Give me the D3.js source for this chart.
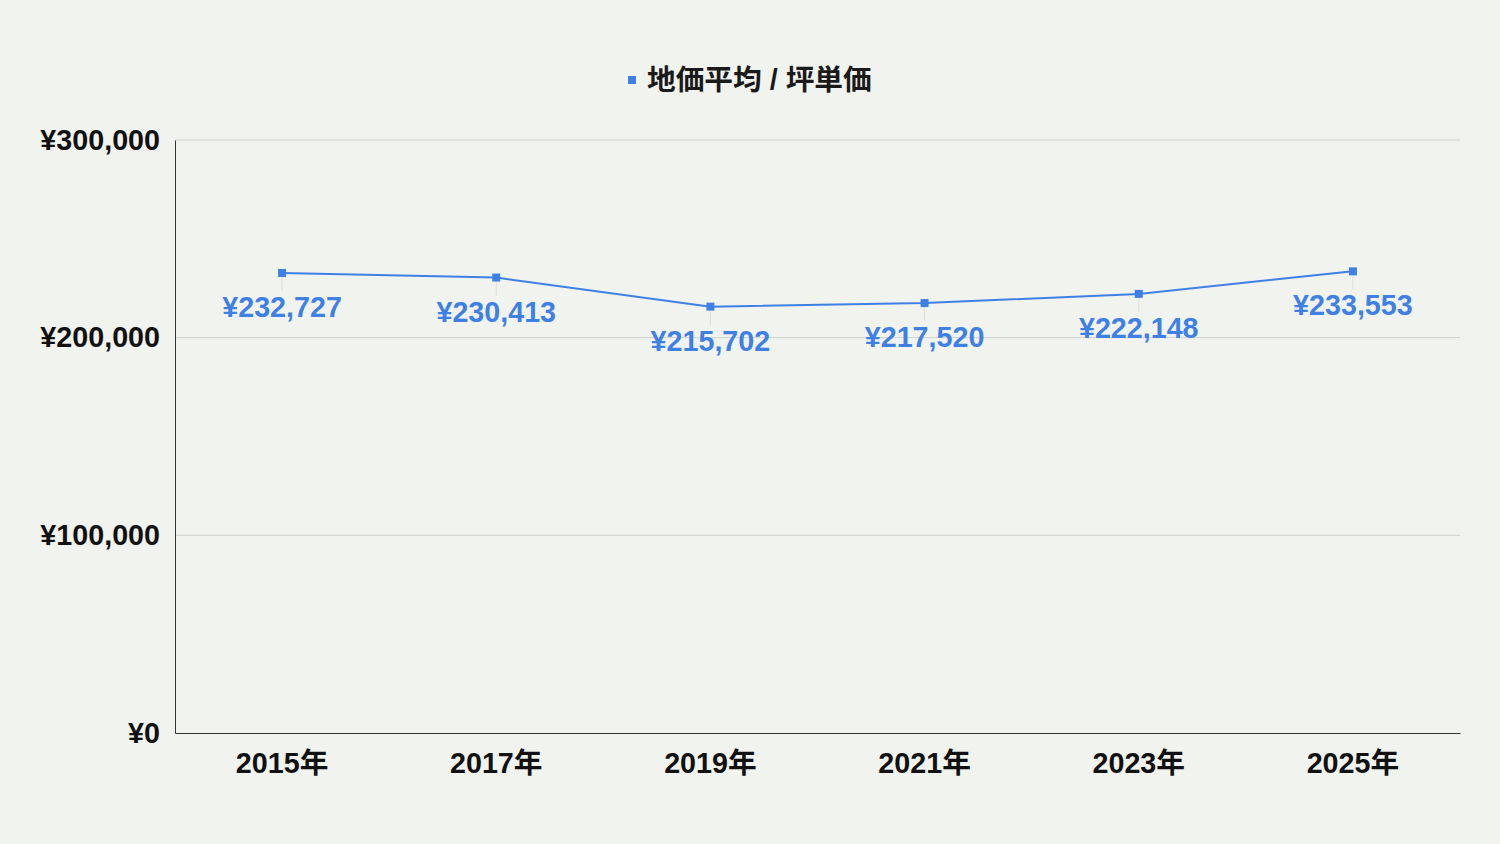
<!DOCTYPE html>
<html>
<head>
<meta charset="utf-8">
<script src="https://cdn.jsdelivr.net/npm/d3@7"></script>
<style>
  html, body { margin: 0; padding: 0; background: #f1f3ee; }
  svg text { font-family: "Liberation Sans", Arial, "Noto Sans CJK JP", sans-serif; font-weight: bold; }
</style>
</head>
<body>
<div id="chart"></div>
<script>
// data
const years = ["2015年", "2017年", "2019年", "2021年", "2023年", "2025年"];
const prices = [232727, 230413, 215702, 217520, 222148, 233553];
const yTicks = [0, 100000, 200000, 300000];
const seriesName = "地価平均 / 坪単価";

const width = 1500, height = 844;
const margin = {top: 140, right: 40, bottom: 111, left: 175};
const lineColor = "#3f80e4";
const fontSize = 28.7;

const svg = d3.select("#chart").append("svg")
    .attr("width", width)
    .attr("height", height);

svg.append("rect")
    .attr("width", width)
    .attr("height", height)
    .attr("fill", "#f1f3ee");

let xScale = d3.scaleBand()
    .domain(years)
    .range([margin.left, width - margin.right]);

let yScale = d3.scaleLinear()
    .domain([0, 300000])
    .range([height - margin.bottom, margin.top]);

const yen = v => "¥" + d3.format(",")(v);

// grid lines
svg.append("g")
    .selectAll("line")
    .data(yTicks.filter(d => d > 0))
    .enter()
    .append("line")
    .attr("x1", margin.left)
    .attr("x2", width - margin.right)
    .attr("y1", d => yScale(d))
    .attr("y2", d => yScale(d))
    .attr("stroke", "#cfd1cc")
    .attr("stroke-width", 1);

// y axis
let yAxis = d3.axisLeft(yScale)
    .tickValues(yTicks)
    .tickFormat(yen)
    .tickSize(0)
    .tickPadding(15);

let yG = svg.append("g")
    .attr("transform", `translate(${margin.left}, 0)`)
    .call(yAxis);
yG.select(".domain").attr("stroke", "#333");
yG.selectAll("text")
    .attr("font-size", fontSize)
    .attr("fill", "#111")
    .style("font-family", null);

// x axis
let xAxis = d3.axisBottom(xScale)
    .tickSize(0)
    .tickPadding(20);

let xG = svg.append("g")
    .attr("transform", `translate(0, ${height - margin.bottom})`)
    .call(xAxis);
xG.select(".domain").attr("stroke", "#333");
xG.selectAll("text")
    .attr("font-size", fontSize)
    .attr("fill", "#111")
    .style("font-family", null);

const cx = d => xScale(d) + xScale.bandwidth() / 2;

// leader lines from point to label
svg.append("g")
    .selectAll("line")
    .data(years)
    .enter()
    .append("line")
    .attr("x1", d => cx(d))
    .attr("x2", d => cx(d))
    .attr("y1", (d, i) => yScale(prices[i]) + 4)
    .attr("y2", (d, i) => yScale(prices[i]) + 18)
    .attr("stroke", "#dcdfd8")
    .attr("stroke-width", 1);

// line
let line = d3.line()
    .x((d, i) => cx(years[i]))
    .y(d => yScale(d));

svg.append("path")
    .datum(prices)
    .attr("d", line)
    .attr("fill", "none")
    .attr("stroke", lineColor)
    .attr("stroke-width", 2);

// markers
svg.append("g")
    .selectAll("rect")
    .data(prices)
    .enter()
    .append("rect")
    .attr("x", (d, i) => cx(years[i]) - 4)
    .attr("y", d => yScale(d) - 4)
    .attr("width", 8)
    .attr("height", 8)
    .attr("fill", lineColor);

// data labels
svg.append("g")
    .selectAll("text")
    .data(prices)
    .enter()
    .append("text")
    .attr("x", (d, i) => cx(years[i]))
    .attr("y", d => yScale(d) + 34)
    .attr("dy", "0.35em")
    .attr("text-anchor", "middle")
    .attr("font-size", fontSize)
    .attr("fill", lineColor)
    .text(d => yen(d));

// legend
let legend = svg.append("g")
    .attr("transform", `translate(628, 80)`);
legend.append("rect")
    .attr("x", 0)
    .attr("y", -4)
    .attr("width", 8)
    .attr("height", 8)
    .attr("fill", lineColor);
legend.append("text")
    .attr("x", 19)
    .attr("y", 0)
    .attr("dy", "0.35em")
    .attr("font-size", fontSize)
    .attr("fill", "#1a1a1a")
    .text(seriesName);
</script>
</body>
</html>
